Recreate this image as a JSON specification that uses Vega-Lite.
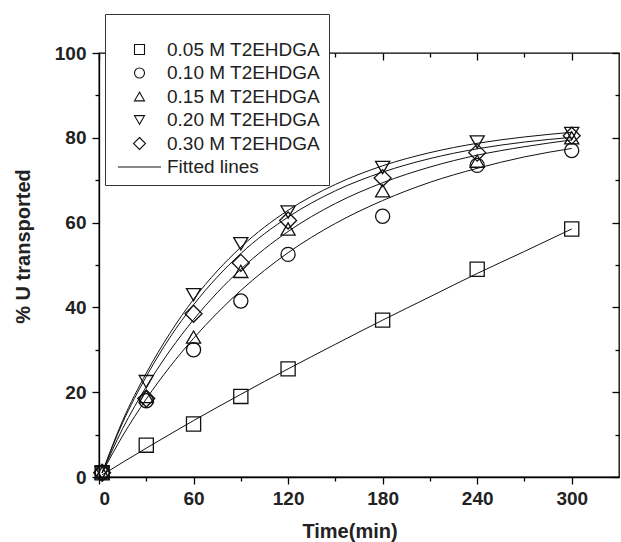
{
  "$schema": "https://vega.github.io/schema/vega-lite/v6.json",
  "width": 520,
  "height": 424,
  "autosize": "none",
  "padding": {"left": 99, "top": 53, "right": 2, "bottom": 65},
  "background": "white",
  "config": {
    "view": {"stroke": "black", "strokeWidth": 1.3},
    "axis": {"grid": false, "domainColor": "black", "tickColor": "black", "domainWidth": 1.3, "tickWidth": 1.3, "labelFont": "Liberation Sans", "labelFontWeight": "bold", "labelFontSize": 19, "labelColor": "#222", "titleFont": "Liberation Sans", "titleFontWeight": "bold", "titleFontSize": 20, "titleColor": "#222"}
  },
  "datasets": {
    "pts": [
      {"series": "0.05 M T2EHDGA", "time": 2, "value": 1},
      {"series": "0.05 M T2EHDGA", "time": 30, "value": 7.5},
      {"series": "0.05 M T2EHDGA", "time": 60, "value": 12.5},
      {"series": "0.05 M T2EHDGA", "time": 90, "value": 19},
      {"series": "0.05 M T2EHDGA", "time": 120, "value": 25.5},
      {"series": "0.05 M T2EHDGA", "time": 180, "value": 37},
      {"series": "0.05 M T2EHDGA", "time": 240, "value": 49},
      {"series": "0.05 M T2EHDGA", "time": 300, "value": 58.5},
      {"series": "0.10 M T2EHDGA", "time": 2, "value": 1},
      {"series": "0.10 M T2EHDGA", "time": 30, "value": 18},
      {"series": "0.10 M T2EHDGA", "time": 60, "value": 30},
      {"series": "0.10 M T2EHDGA", "time": 90, "value": 41.5},
      {"series": "0.10 M T2EHDGA", "time": 120, "value": 52.5},
      {"series": "0.10 M T2EHDGA", "time": 180, "value": 61.5},
      {"series": "0.10 M T2EHDGA", "time": 240, "value": 73.5},
      {"series": "0.10 M T2EHDGA", "time": 300, "value": 77},
      {"series": "0.15 M T2EHDGA", "time": 2, "value": 1},
      {"series": "0.15 M T2EHDGA", "time": 30, "value": 19},
      {"series": "0.15 M T2EHDGA", "time": 60, "value": 33},
      {"series": "0.15 M T2EHDGA", "time": 90, "value": 48.5},
      {"series": "0.15 M T2EHDGA", "time": 120, "value": 58.5},
      {"series": "0.15 M T2EHDGA", "time": 180, "value": 67.5},
      {"series": "0.15 M T2EHDGA", "time": 240, "value": 74.5},
      {"series": "0.15 M T2EHDGA", "time": 300, "value": 80},
      {"series": "0.20 M T2EHDGA", "time": 2, "value": 1},
      {"series": "0.20 M T2EHDGA", "time": 30, "value": 22.5},
      {"series": "0.20 M T2EHDGA", "time": 60, "value": 43},
      {"series": "0.20 M T2EHDGA", "time": 90, "value": 55},
      {"series": "0.20 M T2EHDGA", "time": 120, "value": 62.5},
      {"series": "0.20 M T2EHDGA", "time": 180, "value": 73},
      {"series": "0.20 M T2EHDGA", "time": 240, "value": 79},
      {"series": "0.20 M T2EHDGA", "time": 300, "value": 81},
      {"series": "0.30 M T2EHDGA", "time": 2, "value": 1},
      {"series": "0.30 M T2EHDGA", "time": 30, "value": 18.5},
      {"series": "0.30 M T2EHDGA", "time": 60, "value": 38.5},
      {"series": "0.30 M T2EHDGA", "time": 90, "value": 50.5},
      {"series": "0.30 M T2EHDGA", "time": 120, "value": 60.5},
      {"series": "0.30 M T2EHDGA", "time": 180, "value": 70.5},
      {"series": "0.30 M T2EHDGA", "time": 240, "value": 76.5},
      {"series": "0.30 M T2EHDGA", "time": 300, "value": 80.5}
    ],
    "fits": [
      {"series": "0.05 M T2EHDGA", "time": 2, "fit": 0.5},
      {"series": "0.05 M T2EHDGA", "time": 30, "fit": 6.8},
      {"series": "0.05 M T2EHDGA", "time": 60, "fit": 13.3},
      {"series": "0.05 M T2EHDGA", "time": 90, "fit": 19.5},
      {"series": "0.05 M T2EHDGA", "time": 120, "fit": 25.5},
      {"series": "0.05 M T2EHDGA", "time": 150, "fit": 31.3},
      {"series": "0.05 M T2EHDGA", "time": 180, "fit": 37},
      {"series": "0.05 M T2EHDGA", "time": 210, "fit": 42.5},
      {"series": "0.05 M T2EHDGA", "time": 240, "fit": 48},
      {"series": "0.05 M T2EHDGA", "time": 270, "fit": 53.2},
      {"series": "0.05 M T2EHDGA", "time": 300, "fit": 58.5},
      {"series": "0.10 M T2EHDGA", "time": 2, "fit": 1},
      {"series": "0.10 M T2EHDGA", "time": 15, "fit": 9.7},
      {"series": "0.10 M T2EHDGA", "time": 30, "fit": 18.4},
      {"series": "0.10 M T2EHDGA", "time": 45, "fit": 26},
      {"series": "0.10 M T2EHDGA", "time": 60, "fit": 32.7},
      {"series": "0.10 M T2EHDGA", "time": 90, "fit": 44},
      {"series": "0.10 M T2EHDGA", "time": 120, "fit": 52.9},
      {"series": "0.10 M T2EHDGA", "time": 150, "fit": 59.8},
      {"series": "0.10 M T2EHDGA", "time": 180, "fit": 65.2},
      {"series": "0.10 M T2EHDGA", "time": 210, "fit": 69.5},
      {"series": "0.10 M T2EHDGA", "time": 240, "fit": 72.8},
      {"series": "0.10 M T2EHDGA", "time": 270, "fit": 75.5},
      {"series": "0.10 M T2EHDGA", "time": 300, "fit": 77.5},
      {"series": "0.15 M T2EHDGA", "time": 2, "fit": 1},
      {"series": "0.15 M T2EHDGA", "time": 15, "fit": 11.4},
      {"series": "0.15 M T2EHDGA", "time": 30, "fit": 21.3},
      {"series": "0.15 M T2EHDGA", "time": 45, "fit": 29.8},
      {"series": "0.15 M T2EHDGA", "time": 60, "fit": 37.1},
      {"series": "0.15 M T2EHDGA", "time": 90, "fit": 49},
      {"series": "0.15 M T2EHDGA", "time": 120, "fit": 57.9},
      {"series": "0.15 M T2EHDGA", "time": 150, "fit": 64.5},
      {"series": "0.15 M T2EHDGA", "time": 180, "fit": 69.4},
      {"series": "0.15 M T2EHDGA", "time": 210, "fit": 73.1},
      {"series": "0.15 M T2EHDGA", "time": 240, "fit": 75.9},
      {"series": "0.15 M T2EHDGA", "time": 270, "fit": 77.9},
      {"series": "0.15 M T2EHDGA", "time": 300, "fit": 79.5},
      {"series": "0.20 M T2EHDGA", "time": 2, "fit": 1},
      {"series": "0.20 M T2EHDGA", "time": 15, "fit": 13.3},
      {"series": "0.20 M T2EHDGA", "time": 30, "fit": 24.5},
      {"series": "0.20 M T2EHDGA", "time": 45, "fit": 33.9},
      {"series": "0.20 M T2EHDGA", "time": 60, "fit": 41.9},
      {"series": "0.20 M T2EHDGA", "time": 90, "fit": 54.2},
      {"series": "0.20 M T2EHDGA", "time": 120, "fit": 62.9},
      {"series": "0.20 M T2EHDGA", "time": 150, "fit": 69},
      {"series": "0.20 M T2EHDGA", "time": 180, "fit": 73.4},
      {"series": "0.20 M T2EHDGA", "time": 210, "fit": 76.5},
      {"series": "0.20 M T2EHDGA", "time": 240, "fit": 78.7},
      {"series": "0.20 M T2EHDGA", "time": 270, "fit": 80.2},
      {"series": "0.20 M T2EHDGA", "time": 300, "fit": 81.3},
      {"series": "0.30 M T2EHDGA", "time": 2, "fit": 1},
      {"series": "0.30 M T2EHDGA", "time": 15, "fit": 12.8},
      {"series": "0.30 M T2EHDGA", "time": 30, "fit": 23.7},
      {"series": "0.30 M T2EHDGA", "time": 45, "fit": 32.9},
      {"series": "0.30 M T2EHDGA", "time": 60, "fit": 40.6},
      {"series": "0.30 M T2EHDGA", "time": 90, "fit": 52.7},
      {"series": "0.30 M T2EHDGA", "time": 120, "fit": 61.3},
      {"series": "0.30 M T2EHDGA", "time": 150, "fit": 67.5},
      {"series": "0.30 M T2EHDGA", "time": 180, "fit": 71.9},
      {"series": "0.30 M T2EHDGA", "time": 210, "fit": 75.1},
      {"series": "0.30 M T2EHDGA", "time": 240, "fit": 77.4},
      {"series": "0.30 M T2EHDGA", "time": 270, "fit": 79},
      {"series": "0.30 M T2EHDGA", "time": 300, "fit": 80.1}
    ]
  },
  "layer": [
    {
      "data": {"name": "fits"},
      "mark": {"type": "line", "stroke": "#111", "strokeWidth": 1, "interpolate": "monotone"},
      "encoding": {
        "x": {"field": "time", "type": "quantitative", "scale": {"domain": [0, 330], "nice": false, "zero": false},
              "axis": {"orient": "bottom", "values": [0, 60, 120, 180, 240, 300], "tickSize": 7, "labelPadding": 5, "title": "Time(min)", "titleX": 250.5, "titleY": 60, "titleBaseline": "alphabetic", "titleAnchor": null}},
        "y": {"field": "fit", "type": "quantitative", "scale": {"domain": [0, 100], "nice": false},
              "axis": {"orient": "left", "values": [0, 20, 40, 60, 80, 100], "tickSize": 7, "labelPadding": 6, "title": "% U transported", "titleX": -70, "titleY": 193, "titleAngle": -90, "titleAlign": "center", "titleBaseline": "alphabetic"}},
        "detail": {"field": "series", "type": "nominal"}
      }
    },
    {
      "data": {"name": "pts"},
      "mark": {"type": "point", "filled": false, "stroke": "#111", "strokeWidth": 1.3, "size": 200, "opacity": 1},
      "encoding": {
        "x": {"field": "time", "type": "quantitative",
              "axis": {"orient": "bottom", "values": [30, 90, 150, 210, 270], "tickSize": 4, "labels": false, "domain": false, "title": null}},
        "y": {"field": "value", "type": "quantitative",
              "axis": {"orient": "left", "values": [10, 30, 50, 70, 90], "tickSize": 4, "labels": false, "domain": false, "title": null}},
        "shape": {"field": "series", "type": "nominal",
          "scale": {"domain": ["0.05 M T2EHDGA", "0.10 M T2EHDGA", "0.15 M T2EHDGA", "0.20 M T2EHDGA", "0.30 M T2EHDGA", "Fitted lines"],
                    "range": ["square", "circle", "triangle-up", "triangle-down", "M0,-1.2L1.2,0L0,1.2L-1.2,0Z", "M-4.3,0L4.3,0"]},
          "legend": {"orient": "none", "legendX": 6, "legendY": -39, "title": " ", "titleFontSize": 12, "titlePadding": 6,
                     "padding": 8, "strokeColor": "#333", "fillColor": "white", "symbolSize": 100, "symbolOffset": 17, "symbolStrokeColor": "#111", "symbolFillColor": "transparent", "symbolStrokeWidth": 1.1,
                     "labelFont": "Liberation Sans", "labelFontSize": 19, "labelColor": "#222", "labelOffset": 18, "rowPadding": 3.5, "labelLimit": 300}}
      }
    },
    {
      "data": {"name": "pts"},
      "mark": {"type": "point", "opacity": 0},
      "encoding": {
        "x": {"field": "time", "type": "quantitative",
              "axis": {"orient": "top", "values": [0, 60, 120, 180, 240, 300], "tickSize": -7, "labels": false, "domain": false, "title": null}},
        "y": {"field": "value", "type": "quantitative",
              "axis": {"orient": "right", "values": [0, 20, 40, 60, 80, 100], "tickSize": -7, "labels": false, "domain": false, "title": null}}
      }
    },
    {
      "data": {"name": "pts"},
      "mark": {"type": "point", "opacity": 0},
      "encoding": {
        "x": {"field": "time", "type": "quantitative",
              "axis": {"orient": "top", "values": [30, 90, 150, 210, 270], "tickSize": -4, "labels": false, "domain": false, "title": null}},
        "y": {"field": "value", "type": "quantitative",
              "axis": {"orient": "right", "values": [10, 30, 50, 70, 90], "tickSize": -4, "labels": false, "domain": false, "title": null}}
      }
    }
  ],
  "resolve": {"axis": {"x": "independent", "y": "independent"}}
}
